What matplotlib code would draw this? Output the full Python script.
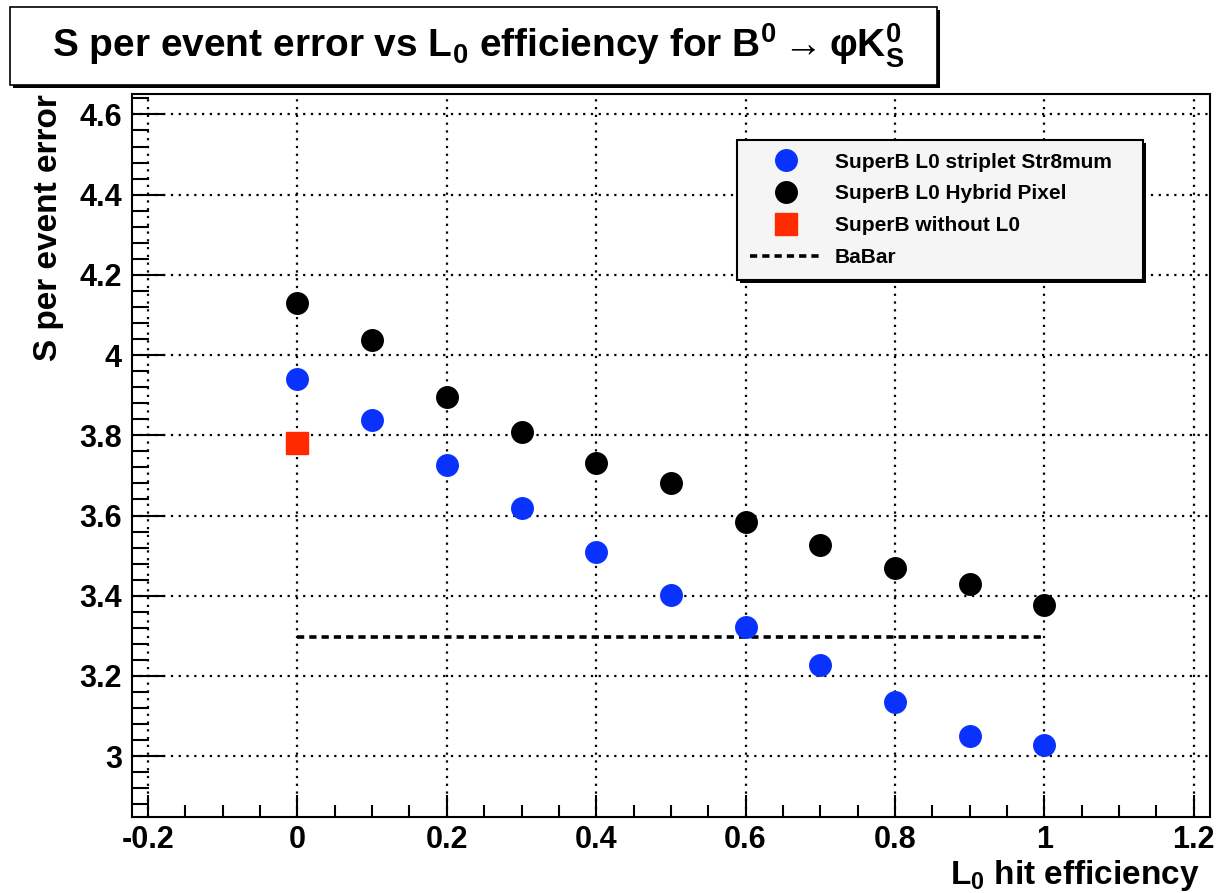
import matplotlib
matplotlib.use("Agg")
import matplotlib.pyplot as plt
from matplotlib.lines import Line2D
from matplotlib.patches import Rectangle
from matplotlib.ticker import MultipleLocator, FuncFormatter

plt.rcParams['font.family'] = ['Liberation Sans', 'DejaVu Sans']
plt.rcParams['font.weight'] = 'bold'
plt.rcParams['mathtext.fontset'] = 'custom'
plt.rcParams['mathtext.rm'] = 'Liberation Sans:bold'
plt.rcParams['mathtext.it'] = 'Liberation Sans:bold'
plt.rcParams['mathtext.bf'] = 'Liberation Sans:bold'
plt.rcParams['mathtext.default'] = 'rm'

# ---- data ----
efficiency = [0.0, 0.1, 0.2, 0.3, 0.4, 0.5, 0.6, 0.7, 0.8, 0.9, 1.0]
striplet = [3.94, 3.837, 3.727, 3.619, 3.509, 3.401, 3.321, 3.228, 3.135, 3.05, 3.028]
hybrid = [4.13, 4.038, 3.895, 3.807, 3.732, 3.682, 3.584, 3.526, 3.469, 3.429, 3.376]
no_l0_x = [0.0]
no_l0_y = [3.78]
babar_x = [0.0, 1.0]
babar_y = [3.296, 3.296]

labels = ["SuperB L0 striplet Str8mum", "SuperB L0 Hybrid Pixel",
          "SuperB without L0", "BaBar"]

W, H = 1220, 893
fig = plt.figure(figsize=(W / 100, H / 100), dpi=100)
ax = fig.add_axes([131.7 / W, 1 - 816.7 / H, (1210 - 131.7) / W, (816.7 - 94) / H])

blue = '#0a32ff'
red = '#ff2a00'

ax.plot(babar_x, babar_y, color='black', lw=2.6, dashes=(2.0, 1.4), zorder=3)
ax.plot(efficiency, striplet, 'o', color=blue, ms=15.5, mec=blue, zorder=4)
ax.plot(efficiency, hybrid, 'o', color='black', ms=15.5, zorder=4)
ax.plot(no_l0_x, no_l0_y, 's', color=red, ms=15.5, mec=red, zorder=4)

ax.set_xlim(-0.222, 1.222)
ax.set_ylim(2.849, 4.651)
ax.xaxis.set_major_locator(MultipleLocator(0.2))
ax.xaxis.set_minor_locator(MultipleLocator(0.05))
ax.yaxis.set_major_locator(MultipleLocator(0.2))
ax.yaxis.set_minor_locator(MultipleLocator(0.04))
ax.xaxis.set_major_formatter(FuncFormatter(lambda v, p: f"{v:g}" if abs(v) > 1e-9 else "0"))
ax.yaxis.set_major_formatter(FuncFormatter(lambda v, p: f"{v:g}"))

ax.tick_params(which='both', direction='in', top=False, right=False, width=1.5,
               labelsize=22)
ax.tick_params(axis='x', which='major', length=16, pad=6)
ax.tick_params(axis='x', which='minor', length=9)
ax.tick_params(axis='y', which='major', length=24, pad=7)
ax.tick_params(axis='y', which='minor', length=12)
for lab in ax.get_xticklabels() + ax.get_yticklabels():
    lab.set_fontweight('bold')
for s in ax.spines.values():
    s.set_linewidth(1.5)

ax.grid(True, which='major', color='black', lw=1.6, linestyle=(0, (1, 2.5)))
ax.set_axisbelow(True)

# axis titles
fig.text(49 / W, 1 - 94 / H, "S per event error", fontsize=24,
         fontweight='bold', rotation=90, ha='center', va='top')
fig.text(1200 / W, 1 - 884 / H, r"L$_0$ hit efficiency", fontsize=24,
         fontweight='bold', ha='right', va='baseline')

# legend
handles = [
    Line2D([], [], ls='none', marker='o', ms=15.5, color=blue, mec=blue),
    Line2D([], [], ls='none', marker='o', ms=15.5, color='black'),
    Line2D([], [], ls='none', marker='s', ms=15.5, color=red, mec=red),
    Line2D([], [], color='black', lw=2.6, dashes=(2.0, 1.4)),
]
leg = ax.legend(handles, labels, loc='upper left',
                bbox_to_anchor=(737 / W, 1 - 275 / H, 406 / W, 135 / H),
                bbox_transform=fig.transFigure, mode='expand',
                borderaxespad=0, prop={'size': 15, 'weight': 'bold'},
                handlelength=3.5, handletextpad=0.6, borderpad=0.6,
                labelspacing=0.62, fancybox=False, framealpha=1,
                facecolor='#f5f5f5', edgecolor='black',
                shadow={'facecolor': 'black', 'alpha': 1, 'edgecolor': 'none'})
leg.get_frame().set_linewidth(1.5)

# title box
fig.patches.append(Rectangle((13 / W, 1 - 88 / H), (937 - 10) / W, (85 - 7) / H,
                             transform=fig.transFigure, facecolor='black',
                             edgecolor='none', zorder=1))
fig.patches.append(Rectangle((10 / W, 1 - 85 / H), (937 - 10) / W, (85 - 7) / H,
                             transform=fig.transFigure, facecolor='white',
                             edgecolor='black', lw=1.2, zorder=2))
fig.text(478 / W, 1 - 46 / H,
         r"S per event error vs L$_0$ efficiency for B$^0$$\rightarrow$φK$^0_S$",
         fontsize=28, fontweight='bold', ha='center', va='center')

fig.savefig("out.png", dpi=100)
